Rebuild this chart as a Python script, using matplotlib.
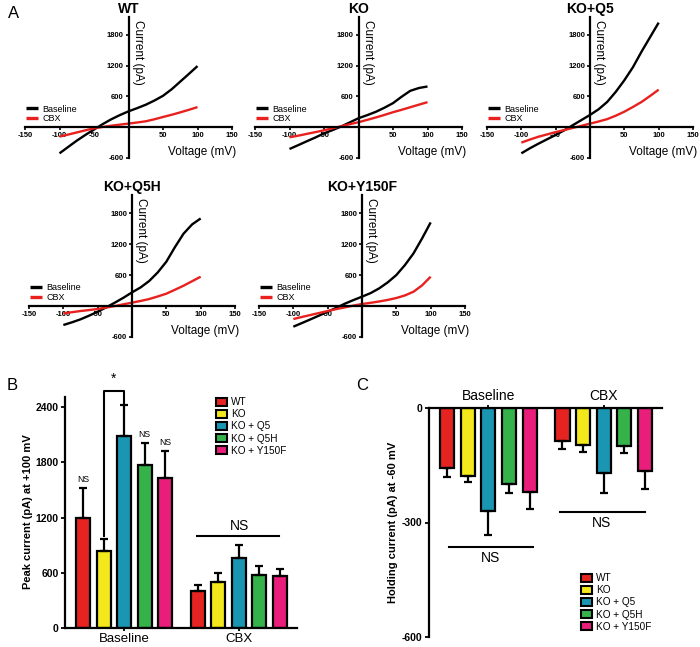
import matplotlib
matplotlib.use('Agg')
import matplotlib.pyplot as plt
from matplotlib.patches import Patch
import numpy as np

plt.rcParams['font.family'] = ['Liberation Sans', 'DejaVu Sans']
plt.rcParams['axes.unicode_minus'] = False

# ---------------- data ----------------
voltage = [-100, -87.5, -75, -62.5, -50, -37.5, -25, -12.5, 0,
           12.5, 25, 37.5, 50, 62.5, 75, 87.5, 100]

wt_baseline = [-509, -385, -262, -150, -45, 60, 155, 237, 310,
               372, 439, 520, 613, 740, 890, 1040, 1193]
wt_cbx = [-183, -143, -102, -60, -22, 6, 30, 51, 71,
          92, 116, 155, 200, 243, 290, 340, 393]
ko_baseline = [-424, -350, -274, -200, -120, -55, 15, 95, 176,
               235, 300, 380, 470, 595, 710, 765, 795]
ko_cbx = [-196, -165, -130, -95, -60, -20, 20, 60, 98,
          143, 190, 240, 293, 340, 390, 440, 489]
q5_baseline = [-509, -410, -320, -235, -150, -60, 40, 140, 240,
               350, 493, 690, 916, 1170, 1473, 1757, 2040]
q5_cbx = [-300, -240, -185, -140, -95, -55, -13, 28, 70,
          112, 158, 225, 303, 395, 493, 610, 733]
q5h_baseline = [-368, -316, -258, -187, -110, -25, 65, 160, 264,
                360, 484, 651, 858, 1140, 1400, 1580, 1696]
q5h_cbx = [-142, -120, -97, -78, -58, -30, 0, 33, 65,
           98, 135, 185, 239, 315, 393, 480, 568]
y150f_baseline = [-400, -330, -258, -185, -110, -35, 45, 115, 181,
                  250, 342, 458, 600, 793, 1019, 1309, 1619]
y150f_cbx = [-252, -212, -174, -135, -97, -60, -26, 8, 39,
             62, 88, 118, 155, 205, 277, 400, 568]

iv_titles = ['WT', 'KO', 'KO+Q5', 'KO+Q5H', 'KO+Y150F']
iv_xticks = [-150, -100, -50, 50, 100, 150]
iv_yticks = [-600, 600, 1200, 1800]

groups = ['WT', 'KO', 'KO + Q5', 'KO + Q5H', 'KO + Y150F']
conditions = ['Baseline', 'CBX']

peak_baseline = [1191, 837, 2090, 1768, 1635]
peak_baseline_err = [332, 130, 335, 246, 285]
peak_cbx = [397, 498, 758, 577, 567]
peak_cbx_err = [72, 98, 144, 98, 75]

hold_baseline = [-158, -178, -269, -200, -219]
hold_baseline_err = [22, 17, 63, 23, 46]
hold_cbx = [-87, -97, -170, -100, -165]
hold_cbx_err = [21, 18, 53, 17, 47]

colors = ['#E52421', '#F3E81B', '#1A96B3', '#35B34A', '#E91E7B']

W, H = 700, 647
fig = plt.figure(figsize=(7.0, 6.47), dpi=100)


def px_axes(x0, x1, ybot, ytop):
    return fig.add_axes([x0 / W, 1 - ybot / H, (x1 - x0) / W, (ybot - ytop) / H])


# ---------------- panel A ----------------
iv_boxes = [(25, 232, 158, 17), (255, 462, 158, 17), (487, 693, 158, 17),
            (29, 235, 337, 195), (259, 465, 337, 195)]
iv_base = [wt_baseline, ko_baseline, q5_baseline, q5h_baseline, y150f_baseline]
iv_cbx = [wt_cbx, ko_cbx, q5_cbx, q5h_cbx, y150f_cbx]

for box, title, yb, yc in zip(iv_boxes, iv_titles, iv_base, iv_cbx):
    ax = px_axes(*box)
    ax.set_xlim(-150, 150)
    ax.set_ylim(-600, 2150)
    l1, = ax.plot(voltage, yb, color='black', lw=1.7, solid_capstyle='butt',
                  solid_joinstyle='round')
    l2, = ax.plot(voltage, yc, color='#E8211F', lw=1.7, solid_capstyle='butt',
                  solid_joinstyle='round')
    for s in ['top', 'right']:
        ax.spines[s].set_visible(False)
    ax.spines['left'].set_position(('data', 0))
    ax.spines['bottom'].set_position(('data', 0))
    ax.spines['left'].set_linewidth(1.6)
    ax.spines['bottom'].set_linewidth(1.6)
    ax.set_xticks(iv_xticks)
    ax.set_yticks(iv_yticks)
    ax.tick_params(axis='both', length=2.5, width=1.2, labelsize=5.5, pad=1)
    for lab in ax.get_xticklabels() + ax.get_yticklabels():
        lab.set_fontweight('bold')
    ax.patch.set_visible(False)
    ax.set_title(title, fontsize=10, fontweight='bold', pad=3)
    ax.text(5, 2090, 'Current (pA)', rotation=270, ha='left', va='top', fontsize=8.5)
    ax.text(106, -484, 'Voltage (mV)', ha='center', va='center', fontsize=8.5, clip_on=False)
    ax.legend([l1, l2], conditions, loc='lower left', bbox_to_anchor=(0.005, 0.245),
              frameon=False, fontsize=6.5, handlelength=1.3, handletextpad=0.55,
              labelspacing=0.1, borderpad=0, borderaxespad=0)
    for ln in ax.get_legend().get_lines():
        ln.set_linewidth(2.4)

fig.text(8 / W, 1 - 13 / H, 'A', fontsize=12, ha='left', va='center')

# ---------------- panel B ----------------
pos_base = np.arange(5)
pos_cbx = 5.6 + np.arange(5)
bw = 0.68
zeros = [0] * 5
err_kw = dict(lw=1.6, capthick=1.6, ecolor='black')

axB = px_axes(65, 297, 628, 397)
axB.bar(pos_base, peak_baseline, bw, color=colors, edgecolor='black', lw=1.6,
        yerr=[zeros, peak_baseline_err], capsize=2.8, error_kw=err_kw)
axB.bar(pos_cbx, peak_cbx, bw, color=colors, edgecolor='black', lw=1.6,
        yerr=[zeros, peak_cbx_err], capsize=2.8, error_kw=err_kw)
axB.set_xlim(-0.88, 10.43)
axB.set_ylim(0, 2510)
for s in ['top', 'right']:
    axB.spines[s].set_visible(False)
for s in ['left', 'bottom']:
    axB.spines[s].set_linewidth(1.6)
axB.set_yticks([0, 600, 1200, 1800, 2400])
axB.set_xticks([2, 7.6])
axB.set_xticklabels(conditions, fontsize=9.5)
axB.tick_params(axis='y', length=3, width=1.3, labelsize=7.5, pad=1.5)
axB.tick_params(axis='x', length=2.5, width=1.3, pad=1)
for lab in axB.get_yticklabels():
    lab.set_fontweight('bold')
# significance marks
for i in [0, 3, 4]:
    axB.text(pos_base[i], peak_baseline[i] + peak_baseline_err[i] + 45, 'NS',
             ha='center', va='bottom', fontsize=6.2)
axB.plot([1, 1, 2, 2], [995, 2580, 2580, 2436], color='black', lw=1.5, clip_on=False)
axB.text(1.5, 2630, '*', ha='center', va='bottom', fontsize=10, clip_on=False)
axB.plot([pos_cbx[0] - 0.05, pos_cbx[4] - 0.05], [1003, 1003], color='black', lw=1.5)
axB.text(7.65, 1030, 'NS', ha='center', va='bottom', fontsize=10)
handles = [Patch(facecolor=c, edgecolor='black', lw=1.5) for c in colors]
axB.legend(handles, groups, loc='upper left', bbox_to_anchor=(216 / W, 1 - 397 / H),
           bbox_transform=fig.transFigure, frameon=False, fontsize=7.2,
           handlelength=1.05, handleheight=0.85, handletextpad=0.45,
           labelspacing=0.22, borderpad=0, borderaxespad=0)
fig.text(28 / W, 1 - 512 / H, 'Peak current (pA) at +100 mV', rotation=90,
         ha='center', va='center', fontsize=8, fontweight='bold')
fig.text(7 / W, 1 - 386 / H, 'B', fontsize=12, ha='left', va='center')

# ---------------- panel C ----------------
axC = px_axes(429, 662, 637, 408)
axC.bar(pos_base, hold_baseline, bw, color=colors, edgecolor='black', lw=1.6,
        yerr=[hold_baseline_err, zeros], capsize=2.8, error_kw=err_kw)
axC.bar(pos_cbx, hold_cbx, bw, color=colors, edgecolor='black', lw=1.6,
        yerr=[hold_cbx_err, zeros], capsize=2.8, error_kw=err_kw)
axC.set_xlim(-0.88, 10.43)
axC.set_ylim(-600, 0)
for s in ['bottom', 'right']:
    axC.spines[s].set_visible(False)
for s in ['left', 'top']:
    axC.spines[s].set_linewidth(1.6)
axC.xaxis.tick_top()
axC.set_xticks([2, 7.6])
axC.set_xticklabels(conditions, fontsize=10)
axC.set_yticks([0, -300, -600])
axC.tick_params(axis='y', length=3, width=1.3, labelsize=7.5, pad=1.5)
axC.tick_params(axis='x', length=2.5, width=1.3, pad=1)
for lab in axC.get_yticklabels():
    lab.set_fontweight('bold')
axC.plot([0.1, 4.17], [-364, -364], color='black', lw=1.5)
axC.text(2.1, -375, 'NS', ha='center', va='top', fontsize=10)
axC.plot([pos_cbx[0] - 0.1, pos_cbx[4]], [-273, -273], color='black', lw=1.5)
axC.text(7.5, -284, 'NS', ha='center', va='top', fontsize=10)
axC.legend(handles, groups, loc='upper left', bbox_to_anchor=(581 / W, 1 - 573 / H),
           bbox_transform=fig.transFigure, frameon=False, fontsize=7.2,
           handlelength=1.05, handleheight=0.85, handletextpad=0.45,
           labelspacing=0.22, borderpad=0, borderaxespad=0)
fig.text(393 / W, 1 - 522 / H, 'Holding current (pA) at -60 mV', rotation=90,
         ha='center', va='center', fontsize=8, fontweight='bold')
fig.text(356 / W, 1 - 386 / H, 'C', fontsize=12, ha='left', va='center')

fig.savefig('out.png', dpi=100)
